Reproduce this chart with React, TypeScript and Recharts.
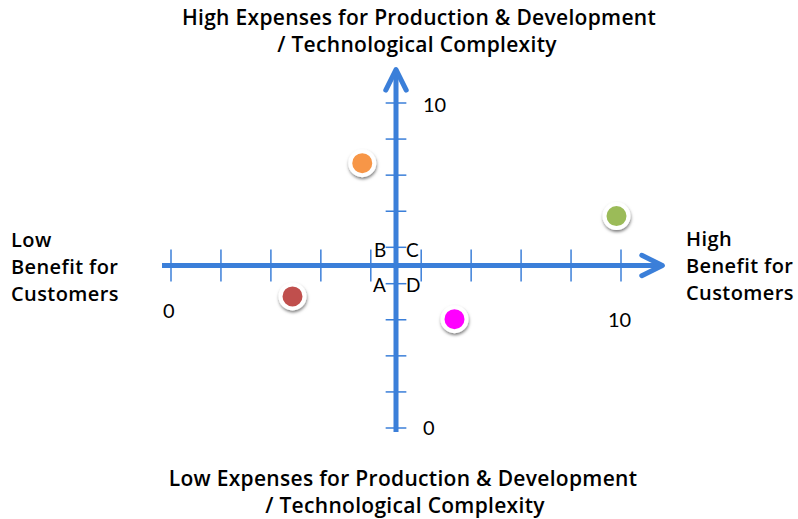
import { ScatterChart, Scatter, XAxis, YAxis, ReferenceLine } from "recharts";

// bubbles (0..10 on both axes)
const pointNames = ["Orange", "Green", "Red", "Magenta"];
const pointX = [4.25, 9.9, 2.7, 6.3];
const pointY = [8.15, 6.52, 4.05, 3.35];
const pointColors = ["#F79646", "#9BBB59", "#C0504D", "#FF00FF"];

// axis ticks (10 marks spread over 0..10) and the crossing point
const tickValues = [0, 1.11, 2.22, 3.33, 4.44, 5.56, 6.67, 7.78, 8.89, 10];
const axisCross = 5;
const axisLabels = ["0", "10"];
const quadrantLetters = ["A", "B", "C", "D"];

const BLUE = "#3B7FD9";
const TITLE_FONT = "'Open Sans', 'DejaVu Sans', sans-serif";
const TICK_FONT = "Lato, 'DejaVu Sans', sans-serif";

const ArrowLine = (props: any) => {
  const { x1, y1, x2, y2 } = props;
  const ang = Math.atan2(y2 - y1, x2 - x1);
  const arm = 23;
  const spread = 0.46;
  const a = [x2 - arm * Math.cos(ang - spread), y2 - arm * Math.sin(ang - spread)];
  const b = [x2 - arm * Math.cos(ang + spread), y2 - arm * Math.sin(ang + spread)];
  const ex = x2 - 3 * Math.cos(ang);
  const ey = y2 - 3 * Math.sin(ang);
  return (
    <g>
      <line x1={x1} y1={y1} x2={ex} y2={ey} stroke={BLUE} strokeWidth={5} />
      <polyline
        points={`${a[0]},${a[1]} ${x2},${y2} ${b[0]},${b[1]}`}
        fill="none"
        stroke={BLUE}
        strokeWidth={5}
        strokeLinecap="round"
        strokeLinejoin="round"
      />
    </g>
  );
};

const Bubble = (color: string) => (p: any) => (
  <circle
    cx={p.cx}
    cy={p.cy}
    r={12}
    fill={color}
    stroke="#fff"
    strokeWidth={4}
    filter="url(#bubbleShadow)"
  />
);

export default function App() {
  const data = pointX.map((x, i) => ({ name: pointNames[i], x, y: pointY[i] }));

  return (
    <div style={{ position: "absolute", left: 0, top: 0, width: 798, height: 519, background: "#fff" }}>
      <svg width={0} height={0} style={{ position: "absolute" }}>
        <defs>
          <filter id="bubbleShadow" x="-50%" y="-50%" width="200%" height="200%">
            <feDropShadow dx={0.5} dy={2} stdDeviation={1.8} floodColor="#000" floodOpacity={0.5} />
          </filter>
        </defs>
      </svg>

      <ScatterChart
        width={798}
        height={519}
        margin={{ top: 103, right: 177, bottom: 91, left: 171 }}
      >
        <XAxis type="number" dataKey="x" domain={[0, 10]} hide />
        <YAxis type="number" dataKey="y" domain={[0, 10]} hide />

        {tickValues.map((t) => (
          <ReferenceLine
            key={"xt" + t}
            segment={[{ x: t, y: axisCross - 0.49 }, { x: t, y: axisCross + 0.49 }]}
            stroke={BLUE}
            strokeWidth={1.5}
            ifOverflow="visible"
          />
        ))}
        {tickValues.map((t) => (
          <ReferenceLine
            key={"yt" + t}
            segment={[{ x: axisCross - 0.23, y: t }, { x: axisCross + 0.23, y: t }]}
            stroke={BLUE}
            strokeWidth={1.5}
            ifOverflow="visible"
          />
        ))}

        <ReferenceLine
          segment={[{ x: -0.2, y: axisCross }, { x: 10.92, y: axisCross }]}
          ifOverflow="visible"
          shape={ArrowLine}
        />
        <ReferenceLine
          segment={[{ x: axisCross, y: -0.12 }, { x: axisCross, y: 11.03 }]}
          ifOverflow="visible"
          shape={ArrowLine}
        />

        {data.map((d, i) => (
          <Scatter
            key={d.name}
            name={d.name}
            data={[d]}
            fill={pointColors[i]}
            shape={Bubble(pointColors[i])}
            isAnimationActive={false}
          />
        ))}
      </ScatterChart>

      <svg
        width={798}
        height={519}
        style={{ position: "absolute", left: 0, top: 0, pointerEvents: "none" }}
        fill="#000"
      >
        <g fontFamily={TITLE_FONT} fontWeight={600} fontSize={21} letterSpacing={0.3} textAnchor="middle">
          <text x={419} y={25}>High Expenses for Production &amp; Development</text>
          <text x={417} y={52}>/ Technological Complexity</text>
          <text x={403} y={486}>Low Expenses for Production &amp; Development</text>
          <text x={405} y={513}>/ Technological Complexity</text>
        </g>
        <g fontFamily={TITLE_FONT} fontWeight={600} fontSize={20} letterSpacing={0.4}>
          <text x={11} y={247}>Low</text>
          <text x={11} y={274}>Benefit for</text>
          <text x={11} y={301}>Customers</text>
          <text x={686} y={246}>High</text>
          <text x={686} y={273}>Benefit for</text>
          <text x={686} y={300}>Customers</text>
        </g>
        <g fontFamily={TICK_FONT} fontSize={20}>
          <text x={423} y={112}>{axisLabels[1]}</text>
          <text x={423} y={435}>{axisLabels[0]}</text>
          <text x={163} y={318}>{axisLabels[0]}</text>
          <text x={608} y={327}>{axisLabels[1]}</text>
        </g>
        <g fontFamily={TICK_FONT} fontSize={19}>
          <text x={373} y={292}>{quadrantLetters[0]}</text>
          <text x={374} y={257}>{quadrantLetters[1]}</text>
          <text x={406} y={257}>{quadrantLetters[2]}</text>
          <text x={406} y={292}>{quadrantLetters[3]}</text>
        </g>
      </svg>
    </div>
  );
}
